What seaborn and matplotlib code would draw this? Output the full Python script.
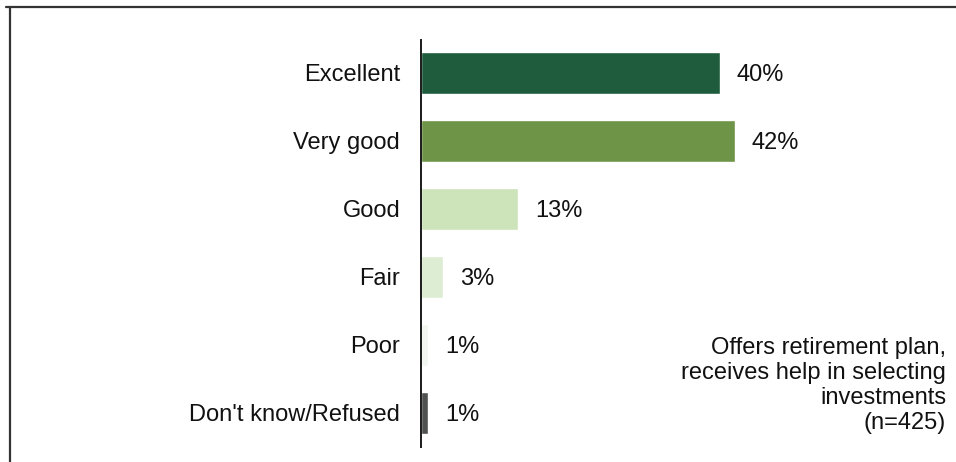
import matplotlib
matplotlib.use("Agg")
import matplotlib.pyplot as plt
from matplotlib.lines import Line2D
import seaborn as sns
import pandas as pd

categories = ["Excellent", "Very good", "Good", "Fair", "Poor", "Don't know/Refused"]
values = [40, 42, 13, 3, 1, 1]
value_labels = ["40%", "42%", "13%", "3%", "1%", "1%"]
bar_colors = ["#1f5b3d", "#6d9447", "#cde3ba", "#dcedd3", "#f2f6f0", "#4e5150"]
note = "Offers retirement plan,\nreceives help in selecting\ninvestments\n(n=425)"

sns.set_theme(style="white")
plt.rcParams["font.family"] = ["Liberation Sans", "DejaVu Sans"]

df = pd.DataFrame({"category": categories, "value": values})

W, H = 956, 462
fig = plt.figure(figsize=(W / 100, H / 100), dpi=100)
ax = fig.add_axes([421 / W, 1 - 447 / H, 529 / W, 407 / H])

sns.barplot(data=df, x="value", y="category", hue="category",
            palette=bar_colors, order=categories, hue_order=categories,
            width=0.63, legend=False, ax=ax, orient="h", saturation=1)

ax.set_xlim(0, 529 / 7.475)
ax.set_ylim(5.5, -0.485)
ax.set_xlabel("")
ax.set_ylabel("")
ax.set_xticks([])
ax.tick_params(axis="y", length=0, pad=15, labelsize=17, labelcolor="#111111")
for t in ax.get_yticklabels():
    t.set_verticalalignment("center_baseline")
for side in ["top", "right", "bottom"]:
    ax.spines[side].set_visible(False)
ax.spines["left"].set_color("#1a1a1a")
ax.spines["left"].set_linewidth(1.4)

for i, (v, lab) in enumerate(zip(values, value_labels)):
    ax.annotate(lab, xy=(v, i), xytext=(12, 0), textcoords="offset points",
                va="center_baseline", ha="left", fontsize=17, color="#111111")

fig.text(946 / W, 1 - 337 / H, note, ha="right", va="top", fontsize=17,
         color="#111111", linespacing=1.17)

# frame around the panel
fig.add_artist(Line2D([6 / W, 1], [1 - 7 / H, 1 - 7 / H], transform=fig.transFigure,
                      color="#333333", linewidth=1.6))
fig.add_artist(Line2D([10 / W, 10 / W], [0, 1 - 7 / H], transform=fig.transFigure,
                      color="#333333", linewidth=1.6))

fig.savefig("out.png", dpi=100)
